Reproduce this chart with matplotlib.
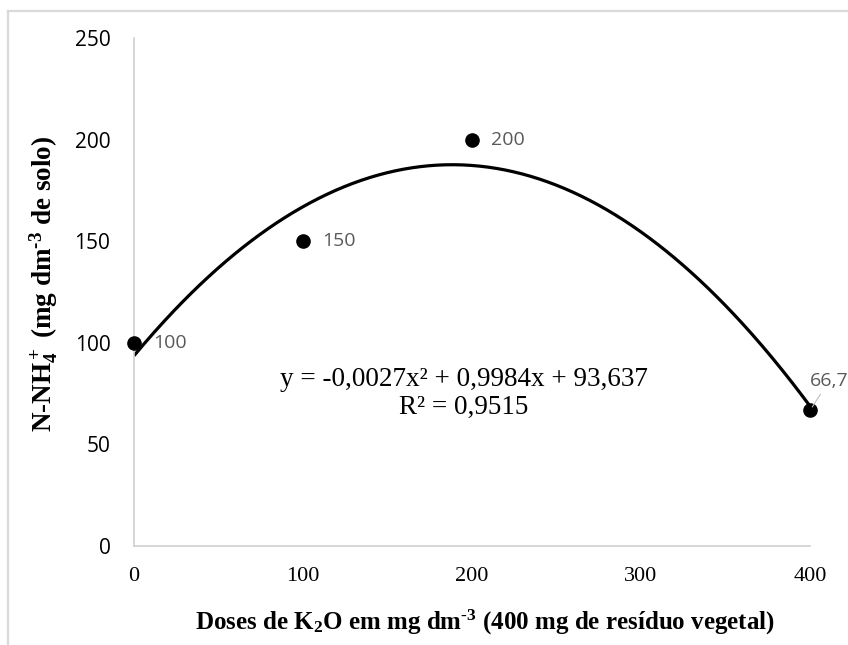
import numpy as np
import matplotlib
matplotlib.use("Agg")
import matplotlib.pyplot as plt
from matplotlib.lines import Line2D

# Data
doses = [0, 100, 200, 400]
nh4 = [100, 150, 200, 66.7]
point_labels = ["100", "150", "200", "66,7"]
x_ticks = [0, 100, 200, 300, 400]
y_ticks = [0, 50, 100, 150, 200, 250]
equation = "y = -0,0027x² + 0,9984x + 93,637"
r2_text = "R² = 0,9515"

plt.rcParams['mathtext.fontset'] = 'custom'
plt.rcParams['mathtext.rm'] = 'Liberation Serif:bold'
plt.rcParams['mathtext.bf'] = 'Liberation Serif:bold'
plt.rcParams['mathtext.it'] = 'Liberation Serif:bold'

W, H = 848, 645
DPI = 100
fig = plt.figure(figsize=(W / DPI, H / DPI), dpi=DPI)
fig.patch.set_facecolor('white')

def px(x, y):
    return x / W, 1 - y / H

left, top = px(134, 38)
right, bottom = px(810, 546)
ax = fig.add_axes([left, bottom, right - left, top - bottom])

# Trendline (2nd order polynomial fit from data)
coef = np.polyfit(doses, nh4, 2)
xs = np.linspace(0, 400, 400)
ax.plot(xs, np.polyval(coef, xs), color='black', lw=2.3, zorder=2, solid_capstyle='butt')

ax.plot(doses, nh4, 'o', color='black', markersize=9.5, zorder=3, clip_on=False)

ax.set_xlim(0, 400)
ax.set_ylim(0, 250)
ax.set_xticks(x_ticks)
ax.set_yticks(y_ticks)
ax.set_xticklabels([str(v) for v in x_ticks], fontfamily='Liberation Serif', fontsize=16)
ax.set_yticklabels([str(v) for v in y_ticks], fontfamily='Open Sans', fontsize=15)
ax.tick_params(axis='x', length=0, pad=15)
ax.tick_params(axis='y', length=0, pad=17)

for s in ['top', 'right']:
    ax.spines[s].set_visible(False)
for s in ['left', 'bottom']:
    ax.spines[s].set_color('#d0d0d0')
    ax.spines[s].set_linewidth(1.2)

# Data labels
lab_color = '#595959'
for xv, yv, t in zip(doses[:3], nh4[:3], point_labels[:3]):
    ax.annotate(t, (xv, yv), xytext=(13.5, 0), textcoords='offset points',
                ha='left', va='center', fontsize=14, color=lab_color,
                fontfamily='Open Sans')
ax.annotate(point_labels[3], (doses[3], nh4[3]), xytext=(13.5, 21), textcoords='offset points',
            ha='center', va='center', fontsize=14, color=lab_color, fontfamily='Open Sans',
            arrowprops=dict(arrowstyle='-', color='#bfbfbf', lw=0.8, shrinkA=1, shrinkB=3))

# Equation
ax.text(*(ax.transAxes.inverted().transform(fig.transFigure.transform(px(464, 379)))), equation,
        transform=ax.transAxes, ha='center', va='center', fontsize=19.5,
        fontfamily='Liberation Serif')
ax.text(*(ax.transAxes.inverted().transform(fig.transFigure.transform(px(464, 407)))), r2_text,
        transform=ax.transAxes, ha='center', va='center', fontsize=19.5,
        fontfamily='Liberation Serif')

# Axis labels
fig.text(*px(485, 622), r"Doses de K$_2$O em mg dm$^{\text{-}3}$ (400 mg de resíduo vegetal)",
         ha='center', va='center', fontsize=18, fontfamily='Liberation Serif', fontweight='bold')
fig.text(*px(44, 284), r"N-NH$_4^+$ (mg dm$^{\text{-}3}$ de solo)", rotation=90,
         ha='center', va='center', fontsize=19.5, fontfamily='Liberation Serif', fontweight='bold')

# Outer border (top and left visible)
bc = '#d9d9d9'
fig.add_artist(Line2D([8 / W, 1], [1 - 11 / H, 1 - 11 / H], transform=fig.transFigure, color=bc, lw=1.6))
fig.add_artist(Line2D([8 / W, 8 / W], [0, 1 - 11 / H], transform=fig.transFigure, color=bc, lw=1.6))

fig.savefig('out.png', dpi=DPI, facecolor='white')
